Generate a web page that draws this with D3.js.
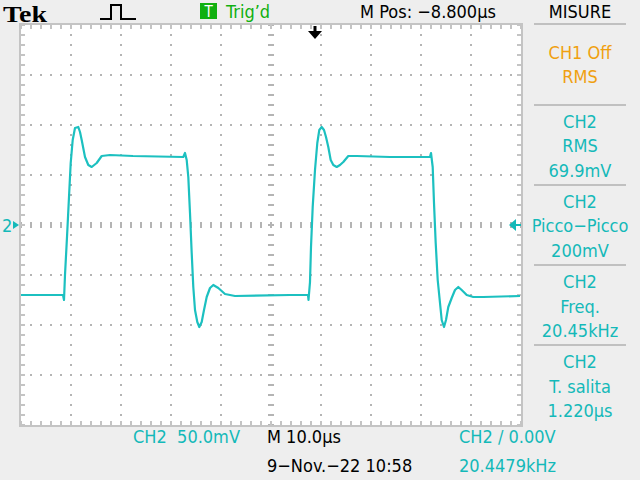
<!DOCTYPE html>
<html><head><meta charset="utf-8">
<script src="https://cdn.jsdelivr.net/npm/d3@7"></script>
<style>
html,body{margin:0;padding:0;background:#eeeeee;}
svg{display:block;}
</style></head>
<body>
<svg id="c" width="640" height="480"></svg>
<script>
// ---- data (time in µs across screen, CH2 in mV) ----
const timeUs = [0,8.4,8.6,8.8,9.2,9.6,9.94,10.34,10.8,11.46,11.8,12.14,12.8,13.46,14.14,15.14,16.14,17.8,22.4,32.46,32.8,33.14,33.46,33.8,34.14,34.46,34.8,35.26,35.66,36.14,36.6,37.14,37.8,38.46,39.46,40.8,42.8,53.8,57.4,57.5,57.8,58.0,58.34,58.8,59.26,59.66,60.14,60.6,61.0,61.46,61.94,62.46,63.14,63.8,64.46,65.46,67.14,73.8,81.8,82.0,82.34,82.6,82.94,83.34,83.8,84.14,84.6,85.0,85.46,86.14,86.8,87.46,88.14,89.14,90.46,92.46,99.8];
const ch2mV = [-70,-70,-75,-50,-12,28,62,85,97,98,93,85,68,60,58,62,69,70,69,68,72,65,48,12,-28,-62,-85,-97,-102,-97,-85,-72,-63,-60,-63,-69,-71,-70,-70,-75,-57,-22,18,55,82,95,98,95,88,78,65,60,58,60,63,69,69,68,68,72,58,22,-18,-55,-78,-95,-102,-95,-82,-73,-65,-62,-65,-70,-72,-72,-71];
const timeDomain = [0,100];      // 10 div x 10 µs
const voltDomain = [-200,200];   // 8 div x 50 mV
const divTicksX = d3.range(0,101,10);
const divTicksY = d3.range(-200,201,50);
const headerTexts = ["M Pos: \u22128.800\u00b5s","MISURE"];
const footerTexts = ["CH2  50.0mV","M 10.0\u00b5s","9\u2212Nov.\u221222 10:58","CH2 \u2215 0.00V","20.4479kHz"];
const measureBlocks = [
  {lines:["CH1 Off","RMS"], col:"orange"},
  {lines:["CH2","RMS","69.9mV"], col:"cyan"},
  {lines:["CH2","Picco\u2212Picco","200mV"], col:"cyan"},
  {lines:["CH2","Freq.","20.45kHz"], col:"cyan"},
  {lines:["CH2","T. salita","1.220\u00b5s"], col:"cyan"}
];

const FONT='"DejaVu Sans Condensed","DejaVu Sans",sans-serif';
const CY="#14b9b9", TRACE="#1cc0c0", OR="#f0a010", GR="#10b010", GRID="#b4b4b4", BORDER="#c4c4c4";
const svg = d3.select("#c");
const x = d3.scaleLinear().domain(timeDomain).range([21,521]);
const y = d3.scaleLinear().domain(voltDomain).range([425,25]);

function txt(px,py,s,fill,anchor){
  return svg.append("text").attr("x",px).attr("y",py).attr("fill",fill)
    .attr("text-anchor",anchor||"start").style("font-family",FONT).style("font-size","18px")
    .attr("xml:space","preserve").text(s);
}

svg.append("rect").attr("width",640).attr("height",480).attr("fill","#eeeeee");
svg.append("rect").attr("x",x(0)).attr("y",y(200)).attr("width",x(100)-x(0)).attr("height",y(-200)-y(200)).attr("fill","#fff");

const g = svg.append("g").attr("shape-rendering","crispEdges");
const fineX = d3.range(0,100.01,2);   // 1/5 div
const fineY = d3.range(-200,200.01,10);
divTicksX.slice(1,-1).forEach(t=>{
  if(t===50) return;
  fineY.forEach(v=>g.append("rect").attr("x",x(t)-1).attr("y",y(v)-1).attr("width",2).attr("height",2).attr("fill",GRID));
});
divTicksY.slice(1,-1).forEach(v=>{
  if(v===0) return;
  fineX.forEach(t=>g.append("rect").attr("x",x(t)-1).attr("y",y(v)-1).attr("width",2).attr("height",2).attr("fill",GRID));
});
fineX.forEach(t=>g.append("rect").attr("x",x(t)-1).attr("y",y(0)-3).attr("width",2).attr("height",6).attr("fill",GRID));
fineY.forEach(v=>g.append("rect").attr("x",x(50)-3).attr("y",y(v)-1).attr("width",6).attr("height",2).attr("fill",GRID));
g.append("rect").attr("x",x(0)-1).attr("y",y(200)-1).attr("width",x(100)-x(0)+2).attr("height",y(-200)-y(200)+2)
  .attr("fill","none").attr("stroke",BORDER).attr("stroke-width",2);
fineX.forEach(t=>{
  g.append("rect").attr("x",x(t)-1).attr("y",y(200)).attr("width",2).attr("height",4).attr("fill",BORDER);
  g.append("rect").attr("x",x(t)-1).attr("y",y(-200)-4).attr("width",2).attr("height",4).attr("fill",BORDER);
});
fineY.forEach(v=>{
  g.append("rect").attr("x",x(0)).attr("y",y(v)-1).attr("width",4).attr("height",2).attr("fill",BORDER);
  g.append("rect").attr("x",x(100)-4).attr("y",y(v)-1).attr("width",4).attr("height",2).attr("fill",BORDER);
});

// trace
const pts = timeUs.map((t,i)=>[t,ch2mV[i]]);
svg.append("path").datum(pts)
  .attr("d",d3.line().x(d=>x(d[0])).y(d=>y(d[1])))
  .attr("fill","none").attr("stroke",TRACE).attr("stroke-width",2.2).attr("stroke-linejoin","round");

// markers
txt(2,y(0)+7,"2",CY);
svg.append("path").attr("d",`M13,${y(0)-4} L19,${y(0)} L13,${y(0)+4} Z`).attr("fill",CY);
svg.append("path").attr("d",`M509,${y(0)} L516,${y(0)-6} L516,${y(0)+6} Z M515,${y(0)-1} h6 v2 h-6 Z`).attr("fill",CY);
svg.append("path").attr("d","M313.5,26 h3 v5 h5.5 l-7,8 l-7,-8 h5.5 Z").attr("fill","#000");

// header
svg.append("text").attr("x",3).attr("y",21.5).style("font-family",'"Liberation Serif","DejaVu Serif",serif')
  .style("font-weight","bold").style("font-size","24px").attr("textLength",44).attr("lengthAdjust","spacingAndGlyphs")
  .attr("fill","#000").text("Tek");
svg.append("path").attr("d","M100,19 H111 V5 H121 V19 H136").attr("fill","none").attr("stroke","#000").attr("stroke-width",2);
svg.append("rect").attr("x",200).attr("y",3).attr("width",17).attr("height",16).attr("fill",GR);
svg.append("text").attr("x",208.5).attr("y",17).attr("text-anchor","middle").attr("fill","#fff")
  .style("font-family",FONT).style("font-size","15px").text("T");
txt(226,18,"Trig\u2019d",GR);
txt(428,18,headerTexts[0],"#000","middle");
txt(580,18,headerTexts[1],"#000","middle");

// right panel
const sepY=[24,105,185,265,345];
sepY.forEach(s=>svg.append("rect").attr("x",534).attr("y",s-1).attr("width",92).attr("height",2).attr("fill","#c0c0c0"));
const baselines=[[59,83],[128,152,177],[208,232,257],[288,313,337],[368,393,417]];
measureBlocks.forEach((b,i)=>{
  b.lines.forEach((l,j)=>txt(580,baselines[i][j],l,b.col==="orange"?OR:CY,"middle"));
});

// footer
txt(133,443,footerTexts[0],CY);
txt(267,443,footerTexts[1],"#000");
txt(267,472,footerTexts[2],"#000");
txt(459,443,footerTexts[3],CY);
txt(459,472,footerTexts[4],CY);
</script>
</body></html>
